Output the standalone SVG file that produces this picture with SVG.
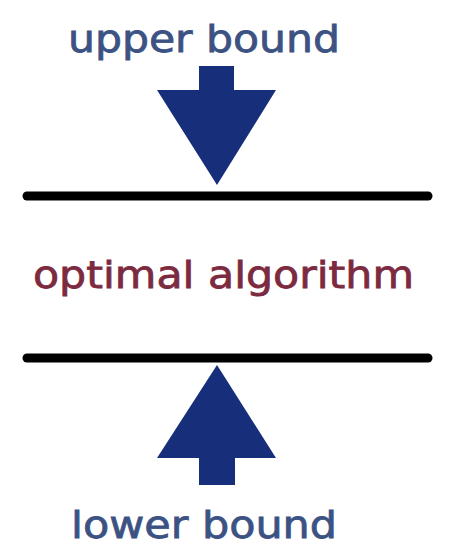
<svg xmlns="http://www.w3.org/2000/svg" width="458" height="558" viewBox="0 0 458 558">
<style>
.bound{font-family:"DejaVu Sans",Verdana,sans-serif;font-size:38px;fill:#3b5283;stroke:#3b5283;stroke-width:0.8}
.opt{font-family:"DejaVu Sans",Verdana,sans-serif;font-size:38px;fill:#7c2a40;stroke:#7c2a40;stroke-width:0.8}
.arrow{fill:#172f7a}
.bar{stroke:#000;stroke-width:9;stroke-linecap:round}
</style>
<rect width="458" height="558" fill="#fff"/>
<g id="upper">
<text class="bound" x="68" y="52" textLength="272" lengthAdjust="spacingAndGlyphs">upper bound</text>
<polygon class="arrow" points="199,66 234,66 234,90 276,90 217,185 157,90 199,90"/>
</g>
<g id="connectors">
<line class="bar" x1="27" y1="196" x2="428" y2="196"/>
<line class="bar" x1="27" y1="358" x2="428" y2="358"/>
</g>
<g id="optimal">
<text class="opt" x="33" y="288" textLength="381" lengthAdjust="spacingAndGlyphs">optimal algorithm</text>
</g>
<g id="lower">
<polygon class="arrow" points="217,365 276,458 235,458 235,485 199,485 199,458 157,458"/>
<text class="bound" x="71" y="538" textLength="266" lengthAdjust="spacingAndGlyphs">lower bound</text>
</g>
</svg>
